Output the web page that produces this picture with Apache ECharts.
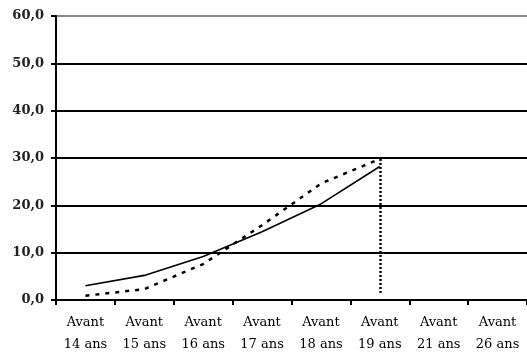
<!DOCTYPE html>
<html><head><meta charset="utf-8">
<script src="https://cdn.jsdelivr.net/npm/echarts@6/dist/echarts.min.js"></script>
<style>html,body{margin:0;padding:0;background:#fff}#c{width:527px;height:356px}</style>
</head><body><div id="c"></div>
<script>
var categories = ["Avant\n14 ans","Avant\n15 ans","Avant\n16 ans","Avant\n17 ans","Avant\n18 ans","Avant\n19 ans","Avant\n21 ans","Avant\n26 ans"];
var solidValues = [3.0, 5.2, 9.2, 14.4, 20.3, 28.2, null, null];
var dottedValues = [0.9, 2.3, 7.6, 15.8, 24.6, 29.8, null, null];
var dropLine = {category: "Avant\n19 ans", from: 29.8, to: 1.5};
var yTicks = {min: 0, max: 60, interval: 10};

var chart = echarts.init(document.getElementById('c'));
chart.setOption({
  animation: false,
  grid: {left: 56, top: 16, width: 476, height: 287, containLabel: false},
  xAxis: {
    type: 'category', data: categories, boundaryGap: true,
    axisLine: {lineStyle: {color: '#000', width: 2}},
    axisTick: {show: true, length: 5, lineStyle: {color: '#000', width: 2}},
    axisLabel: {fontFamily: 'DejaVu Serif', fontSize: 13, color: '#000', lineHeight: 22, margin: 12, interval: 0}
  },
  yAxis: {
    type: 'value', min: yTicks.min, max: yTicks.max, interval: yTicks.interval,
    axisLine: {show: true, lineStyle: {color: '#000', width: 2}},
    axisTick: {show: true, length: 5, lineStyle: {color: '#000', width: 2}},
    axisLabel: {fontFamily: 'DejaVu Serif', fontWeight: 'bold', fontSize: 13, color: '#222', margin: 12,
      formatter: function(v){ return v.toFixed(1).replace('.', ','); }},
    splitLine: {show: true, lineStyle: {color: ['#000','#000','#000','#000','#000','#000','#888'], width: 2}}
  },
  series: [
    {type: 'line', data: solidValues, symbol: 'none', lineStyle: {color: '#000', width: 1.6}},
    {type: 'line', data: dottedValues, symbol: 'none', lineStyle: {color: '#000', width: 2.5, type: [4, 6]},
     markLine: {silent: true, symbol: ['none','none'], label: {show: false},
       lineStyle: {color: '#000', width: 2.5, type: [2, 2]},
       data: [[{coord: [dropLine.category, dropLine.from]}, {coord: [dropLine.category, dropLine.to]}]]}}
  ]
});
</script></body></html>
